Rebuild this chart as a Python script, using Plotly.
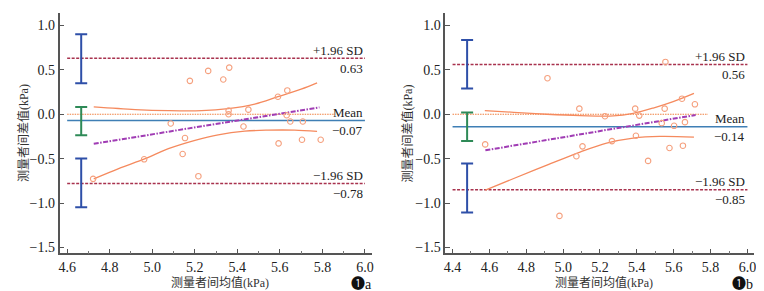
import plotly.graph_objects as go

# ---------------- Panel a data ----------------
a_mean = [4.722, 4.962, 5.087, 5.143, 5.154, 5.177, 5.217, 5.263, 5.334, 5.362, 5.359,
          5.359, 5.429, 5.452, 5.591, 5.594, 5.635, 5.632, 5.649, 5.704, 5.708, 5.792]
a_diff = [-0.727, -0.507, -0.104, -0.447, -0.268, 0.376, -0.697, 0.488, 0.391, 0.525, 0.041,
          0.0, -0.138, 0.052, 0.197, -0.328, 0.268, -0.011, -0.082, -0.287, -0.082, -0.287]
a_bias, a_upper, a_lower = -0.07, 0.63, -0.78
a_reg_x = [4.725, 5.786]
a_reg_y = [-0.332, 0.078]
a_band_x = [4.725, 4.920, 5.076, 5.232, 5.357, 5.482, 5.591, 5.700, 5.775]
a_band_hi = [0.082, 0.053, 0.041, 0.041, 0.064, 0.115, 0.198, 0.283, 0.354]
a_band_lo_x = [4.725, 4.842, 4.967, 5.076, 5.201, 5.310, 5.435, 5.544, 5.669, 5.775]
a_band_lo = [-0.727, -0.611, -0.500, -0.388, -0.294, -0.231, -0.190, -0.179, -0.179, -0.193]
a_zero_x = [4.6, 5.86]
a_ci_x = 4.666
a_ci_upper = [0.35, 0.90]
a_ci_mean = [-0.235, 0.082]
a_ci_lower = [-1.047, -0.499]

# ---------------- Panel b data ----------------
b_mean = [4.577, 4.915, 4.980, 5.072, 5.088, 5.105, 5.227, 5.265, 5.391, 5.395, 5.413,
          5.461, 5.535, 5.551, 5.555, 5.577, 5.602, 5.645, 5.650, 5.661, 5.715]
b_diff = [-0.339, 0.406, -1.144, -0.473, 0.063, -0.361, -0.022, -0.302, 0.063, -0.242, -0.015,
          -0.525, -0.100, 0.063, 0.589, -0.380, -0.130, 0.175, -0.354, -0.089, 0.112]
b_bias, b_upper, b_lower = -0.14, 0.56, -0.85
b_reg_x = [4.578, 5.719]
b_reg_y = [-0.406, -0.008]
b_band_x = [4.575, 4.732, 4.912, 5.092, 5.272, 5.380, 5.489, 5.597, 5.710]
b_band_hi = [0.041, 0.022, 0.000, -0.015, -0.019, 0.011, 0.070, 0.142, 0.235]
b_band_lo_x = [4.578, 4.732, 4.912, 5.092, 5.236, 5.380, 5.524, 5.710]
b_band_lo = [-0.853, -0.723, -0.573, -0.425, -0.324, -0.268, -0.249, -0.257]
b_zero_x = [4.4, 5.786]
b_ci_x = 4.479
b_ci_upper = [0.29, 0.835]
b_ci_mean = [-0.30, 0.02]
b_ci_lower = [-1.107, -0.555]

x_ticks_a = [4.6, 4.8, 5.0, 5.2, 5.4, 5.6, 5.8, 6.0]
x_ticks_b = [4.4, 4.6, 4.8, 5.0, 5.2, 5.4, 5.6, 5.8, 6.0]
y_ticks = [1.0, 0.5, 0.0, -0.5, -1.0, -1.5]
x_title = "测量者间均值(kPa)"
y_title = "测量者间差值(kPa)"
fig_num = "❶"
panel_letters = ["a", "b"]

FONT = "'Times New Roman', 'Liberation Serif', Tinos, 'Noto Sans CJK SC', serif"
C_PT = "#F5A07E"
C_BAND = "#F58A5E"
C_ZERO = "#F08040"
C_BIAS = "#3F7FB5"
C_LOA = "#A8324E"
C_REG = "#A03CB4"
C_CIB = "#2E4FA8"
C_CIG = "#2E8A57"

fig = go.Figure()


def add_panel(xa, ya, mean, diff, bias, upper, lower, reg_x, reg_y, bx, bhi, blx, blo,
              zero_x, ci_x, ci_up, ci_mid, ci_lo, x0):
    kw = dict(xaxis=xa, yaxis=ya, showlegend=False, hoverinfo="skip")
    # limits of agreement & bias
    for val, col, dash, w in [(upper, C_LOA, "3px,1.5px", 1.5), (lower, C_LOA, "3px,1.5px", 1.5),
                              (bias, C_BIAS, "solid", 1.5)]:
        fig.add_trace(go.Scatter(x=[x0, 6.0], y=[val, val], mode="lines",
                                 line=dict(color=col, width=w, dash=dash), **kw))
    # line of equality
    fig.add_trace(go.Scatter(x=zero_x, y=[0, 0], mode="lines",
                             line=dict(color=C_ZERO, width=1.2, dash="1.5px,1px"), **kw))
    # regression band
    fig.add_trace(go.Scatter(x=bx, y=bhi, mode="lines", line_shape="spline",
                             line=dict(color=C_BAND, width=1.3), **kw))
    fig.add_trace(go.Scatter(x=blx, y=blo, mode="lines", line_shape="spline",
                             line=dict(color=C_BAND, width=1.3), **kw))
    # regression line
    fig.add_trace(go.Scatter(x=reg_x, y=reg_y, mode="lines",
                             line=dict(color=C_REG, width=2, dash="5px,1.5px,1.5px,1.5px"), **kw))
    # points
    fig.add_trace(go.Scatter(x=mean, y=diff, mode="markers",
                             marker=dict(symbol="circle-open", size=5.5,
                                         color=C_PT, line=dict(width=1.1, color=C_PT)), **kw))
    # CI error bars
    for rng, col in [(ci_up, C_CIB), (ci_mid, C_CIG), (ci_lo, C_CIB)]:
        mid = (rng[0] + rng[1]) / 2
        half = (rng[1] - rng[0]) / 2
        fig.add_trace(go.Scatter(x=[ci_x], y=[mid], mode="markers",
                                 marker=dict(size=0.1, color=col, opacity=0),
                                 error_y=dict(type="data", array=[half], visible=True,
                                              color=col, thickness=2, width=6), **kw))
    # labels
    for val, txt, shift in [(upper, "+1.96 SD", 8), (upper, f"{upper:.2f}".replace("-", "−"), -10),
                            (bias, "Mean", 8), (bias, f"{bias:.2f}".replace("-", "−"), -10),
                            (lower, "−1.96 SD", 8), (lower, f"{lower:.2f}".replace("-", "−"), -10)]:
        fig.add_annotation(x=6.0, y=val, xref=xa, yref=ya, text=txt, showarrow=False,
                           xanchor="right", yanchor="middle", yshift=shift,
                           font=dict(family=FONT, size=13, color="#222"))


add_panel("x", "y", a_mean, a_diff, a_bias, a_upper, a_lower, a_reg_x, a_reg_y,
          a_band_x, a_band_hi, a_band_lo_x, a_band_lo, a_zero_x, a_ci_x,
          a_ci_upper, a_ci_mean, a_ci_lower, 4.6)
add_panel("x2", "y2", b_mean, b_diff, b_bias, b_upper, b_lower, b_reg_x, b_reg_y,
          b_band_x, b_band_hi, b_band_lo_x, b_band_lo, b_zero_x, b_ci_x,
          b_ci_upper, b_ci_mean, b_ci_lower, 4.4)

W, H = 764, 291
ydom = [1 - 247 / H, 1 - 5 / H]

axis_common = dict(showline=True, linecolor="#555", linewidth=1.5, showgrid=False,
                   zeroline=False, ticks="inside", ticklen=5, tickcolor="#555", tickwidth=1.2,
                   tickfont=dict(family=FONT, size=14, color="#222"))

fig.update_layout(
    width=W, height=H, margin=dict(l=0, r=0, t=0, b=0),
    paper_bgcolor="white", plot_bgcolor="white",
    xaxis=dict(domain=[50.7 / W, 364.3 / W], range=[4.564, 6.0326], anchor="y",
               tickvals=x_ticks_a, ticktext=[f"{v:.1f}" for v in x_ticks_a],
               minor=dict(ticks="inside", ticklen=3, dtick=0.1, tick0=4.6, tickcolor="#777"),
               **axis_common),
    yaxis=dict(domain=ydom, range=[-1.565, 1.14], anchor="x",
               tickvals=y_ticks, ticktext=[f"{v:.1f}".replace("-", "−") for v in y_ticks],
               **axis_common),
    xaxis2=dict(domain=[438 / W, 748 / W], range=[4.3605, 6.036], anchor="y2",
                tickvals=x_ticks_b, ticktext=[f"{v:.1f}" for v in x_ticks_b],
                minor=dict(ticks="inside", ticklen=3, dtick=0.1, tick0=4.4, tickcolor="#777"),
                **axis_common),
    yaxis2=dict(domain=ydom, range=[-1.565, 1.14], anchor="x2",
                tickvals=y_ticks, ticktext=[f"{v:.1f}".replace("-", "−") for v in y_ticks],
                **axis_common),
)

tfont = dict(family=FONT, size=12, color="#333")
tag_font = dict(family=FONT, size=14, color="#111")
for xc, yt_x, tag_x, letter in [(212, 14, 350, panel_letters[0]), (597.7, 400, 733, panel_letters[1])]:
    fig.add_annotation(x=xc / W, y=1 - 276 / H, xref="paper", yref="paper", text=x_title,
                       showarrow=False, xanchor="center", yanchor="middle", font=tfont)
    fig.add_annotation(x=yt_x / W, y=1 - 126 / H, xref="paper", yref="paper", text=y_title,
                       textangle=-90, showarrow=False, xanchor="center", yanchor="middle",
                       font=tfont)
    fig.add_annotation(x=tag_x / W, y=1 - 277 / H, xref="paper", yref="paper",
                       text=fig_num, showarrow=False, xanchor="center", yanchor="middle",
                       font=tag_font)
    fig.add_annotation(x=(tag_x + 5) / W, y=1 - 278 / H, xref="paper", yref="paper",
                       text=letter, showarrow=False, xanchor="left", yanchor="middle",
                       font=tag_font)

fig.write_html("out.html")
